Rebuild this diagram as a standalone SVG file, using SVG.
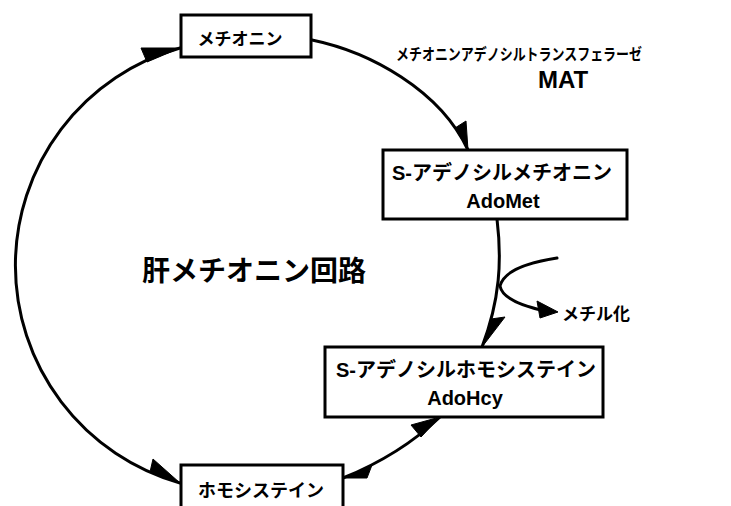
<svg xmlns="http://www.w3.org/2000/svg" width="731" height="506" viewBox="0 0 731 506">
<style>
.box{fill:#fff;stroke:#000;stroke-width:3}
.ln{fill:none;stroke:#000;stroke-width:3;stroke-linecap:round}
.ah{fill:#000;stroke:#000;stroke-width:1;stroke-linejoin:round}
text{font-family:"Liberation Sans","Noto Sans CJK JP",sans-serif;font-weight:bold;fill:#000}
.jp{font-family:"Noto Sans CJK JP","Liberation Sans",sans-serif}
</style>
<rect width="731" height="506" fill="#fff"/>
<g id="connectors">
<path class="ln" d="M180,48 A226,226 0 0 0 180,483"/>
<path class="ln" d="M312,40 C370,52 440,90 468,150"/>
<path class="ln" d="M497,219 C502,260 500,300 482,347"/>
<path class="ln" d="M557,258 Q505,266 500,286 Q503,302 545,311"/>
<path class="ln" d="M440,417 Q400,455 343,478"/>
<polygon class="ah" points="180,48 141,48 147,62"/>
<polygon class="ah" points="180,483 153,459 150,472"/>
<polygon class="ah" points="468,150 455,128 466,121"/>
<polygon class="ah" points="482,347 491,319 505,317"/>
<polygon class="ah" points="558,312 537,301 540,318"/>
<polygon class="ah" points="440,417 411,425 421,437"/>
<polygon class="ah" points="344,478 372,465 367,478"/>
</g>
<g id="methionine">
<rect class="box" x="181" y="15" width="130" height="42"/>
<text class="jp" x="240" y="45" font-size="17" text-anchor="middle">メチオニン</text>
</g>
<g id="adomet">
<rect class="box" x="383" y="150" width="244" height="69"/>
<text x="502" y="180" font-size="20" text-anchor="middle">S-アデノシルメチオニン</text>
<text x="503" y="208" font-size="20" text-anchor="middle">AdoMet</text>
</g>
<g id="adohcy">
<rect class="box" x="325" y="347" width="278" height="70"/>
<text x="466" y="377" font-size="20" text-anchor="middle">S-アデノシルホモシステイン</text>
<text x="465" y="405" font-size="20" text-anchor="middle">AdoHcy</text>
</g>
<g id="homocysteine">
<rect class="box" x="181" y="465" width="162" height="50"/>
<text class="jp" x="261" y="497" font-size="18" text-anchor="middle">ホモシステイン</text>
</g>
<g id="enzyme">
<text class="jp" x="396" y="60" font-size="16" textLength="246" lengthAdjust="spacingAndGlyphs">メチオニンアデノシルトランスフェラーゼ</text>
<text x="563" y="88" font-size="24" text-anchor="middle">MAT</text>
</g>
<g id="methylation">
<text class="jp" x="562" y="320" font-size="17">メチル化</text>
</g>
<g id="title">
<text class="jp" x="254" y="281" font-size="28" text-anchor="middle">肝メチオニン回路</text>
</g>
</svg>
